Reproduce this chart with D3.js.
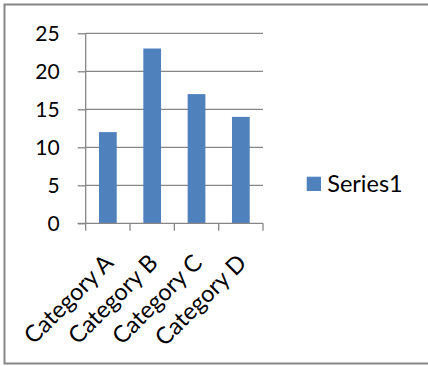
<!DOCTYPE html>
<html>
<head>
<meta charset="utf-8">
<script src="https://cdn.jsdelivr.net/npm/d3@7"></script>
<style>
  html, body { margin: 0; padding: 0; background: #fff; }
  svg { display: block; }
  text { font-family: Lato, "Open Sans", sans-serif; fill: #000; }
</style>
</head>
<body>
<script>
// Chart data
const categories = ["Category A", "Category B", "Category C", "Category D"];
const series1 = [12, 23, 17, 14];
const seriesName = "Series1";
const yTicks = [0, 5, 10, 15, 20, 25];

const W = 428, H = 366;
const svg = d3.select("body").append("svg").attr("width", W).attr("height", H);

// outer chart frame (right edge runs past the canvas)
svg.append("rect")
  .attr("x", 4.5).attr("y", 4.5).attr("width", W + 10).attr("height", 359)
  .attr("fill", "#fff").attr("stroke", "#868686").attr("stroke-width", 2);

const plot = { left: 85.7, right: 263, top: 33.3, bottom: 223.3 };

const x = d3.scaleBand().domain(categories)
  .range([plot.left, plot.right]).paddingInner(0.6).paddingOuter(0.3);
const y = d3.scaleLinear().domain([0, 25]).range([plot.bottom, plot.top]);

// horizontal gridlines
svg.append("g").selectAll("line").data(yTicks.filter(d => d > 0)).join("line")
  .attr("x1", plot.left).attr("x2", plot.right)
  .attr("y1", d => y(d)).attr("y2", d => y(d))
  .attr("stroke", "#868686").attr("stroke-width", 1.3);

// bars
svg.append("g").selectAll("rect").data(series1).join("rect")
  .attr("x", (d, i) => x(categories[i]))
  .attr("width", x.bandwidth())
  .attr("y", d => y(d))
  .attr("height", d => y(0) - y(d))
  .attr("fill", "#4F81BD");

// y axis
const yAxis = svg.append("g").attr("transform", `translate(${plot.left},0)`)
  .call(d3.axisLeft(y).tickValues(yTicks).tickSize(8).tickPadding(18));
yAxis.select(".domain").attr("stroke", "#868686").attr("stroke-width", 1.3)
  .attr("d", `M0,${plot.top}V${plot.bottom}`);
yAxis.selectAll(".tick line").attr("stroke", "#868686").attr("stroke-width", 1.3);
yAxis.selectAll(".tick text").attr("font-size", 21).attr("font-family", "Lato, sans-serif")
  .attr("fill", "#000").attr("x", -26).attr("dy", "0.36em");

// x axis: baseline and category boundary ticks
const xAxis = svg.append("g");
xAxis.append("line")
  .attr("x1", plot.left - 8).attr("x2", plot.right)
  .attr("y1", plot.bottom).attr("y2", plot.bottom)
  .attr("stroke", "#868686").attr("stroke-width", 1.3);
const bounds = d3.range(categories.length + 1).map(i => plot.left + (plot.right - plot.left) * i / categories.length);
xAxis.selectAll("line.tk").data(bounds).join("line").attr("class", "tk")
  .attr("x1", d => d).attr("x2", d => d)
  .attr("y1", plot.bottom).attr("y2", plot.bottom + 7.5)
  .attr("stroke", "#868686").attr("stroke-width", 1.3);

// rotated category labels
xAxis.selectAll("text").data(categories).join("text")
  .attr("transform", d => `translate(${x(d) + x.bandwidth() / 2 + 7},${plot.bottom + 41}) rotate(-45)`)
  .attr("text-anchor", "end")
  .attr("font-size", 23.5)
  .text(d => d);

// legend
const lg = svg.append("g").attr("transform", "translate(306.7,176.7)");
lg.append("rect").attr("width", 14.3).attr("height", 14.3).attr("fill", "#4F81BD");
lg.append("text").attr("x", 20.5).attr("y", 14.8).attr("font-size", 23.5).text(seriesName);
</script>
</body>
</html>
